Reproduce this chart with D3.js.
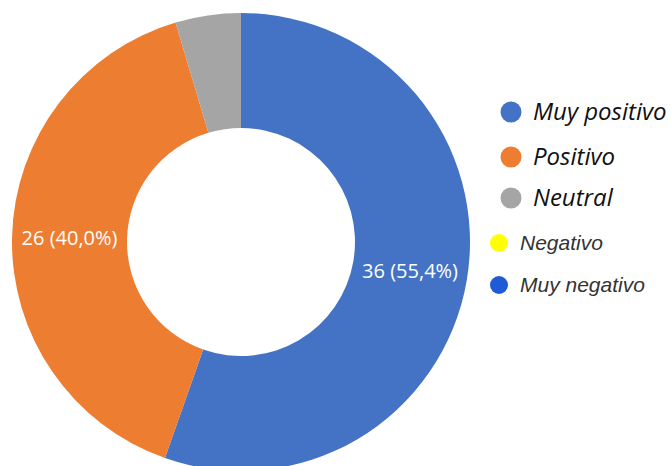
<!DOCTYPE html>
<html>
<head>
<meta charset="utf-8">
<script src="https://cdn.jsdelivr.net/npm/d3@7"></script>
<style>
	body { margin: 0; background: #fff; }
	svg { display: block; }
</style>
</head>
<body>
<svg id="chart" width="672" height="466"></svg>
<script>
	var categories = ["Muy positivo", "Positivo", "Neutral", "Negativo", "Muy negativo"];
	var counts = [36, 26, 3, 0, 0];
	var sliceColors = ["#4472c4", "#ed7d31", "#a5a5a5", "#ffff00", "#1f5bd6"];

	var width = 672, height = 466,
		cx = 241, cy = 242,
		outerR = 229, innerR = 114;

	var svg = d3.select("#chart");
	var total = d3.sum(counts);

	var pie = d3.pie()
		.sort(null)
		.value(function(d) { return d; });
	var arcs = pie(counts);

	var arc = d3.arc()
		.innerRadius(innerR)
		.outerRadius(outerR);
	var labelArc = d3.arc()
		.innerRadius((innerR + outerR) / 2)
		.outerRadius((innerR + outerR) / 2);

	var g = svg.append("g")
		.attr("transform", "translate(" + cx + "," + cy + ")");

	g.selectAll("path.slice")
		.data(arcs)
		.enter().append("path")
		.attr("class", "slice")
		.attr("d", arc)
		.attr("fill", function(d, i) { return sliceColors[i]; });

	//  value labels only on the two big slices
	g.selectAll("text.value")
		.data(arcs.filter(function(d) { return d.value / total > 0.1; }))
		.enter().append("text")
		.attr("class", "value")
		.attr("transform", function(d) { return "translate(" + labelArc.centroid(d) + ")"; })
		.attr("dy", ".35em")
		.style("text-anchor", "middle")
		.style("font-family", "'Open Sans', 'Noto Sans', sans-serif")
		.style("font-size", "20px")
		.attr("fill", "#fff")
		.text(function(d) {
			var pct = (d.value / total * 100).toFixed(1).replace(".", ",");
			return d.value + " (" + pct + "%)";
		});

	//  legend: first three in one style, last two in another
	var legendPos = [
		{x: 511, y: 112, r: 10.5, tx: 533, size: 24, font: "'Open Sans', 'Noto Sans', sans-serif", color: "#111"},
		{x: 511, y: 157, r: 10.5, tx: 533, size: 24, font: "'Open Sans', 'Noto Sans', sans-serif", color: "#111"},
		{x: 511, y: 198, r: 10.5, tx: 533, size: 24, font: "'Open Sans', 'Noto Sans', sans-serif", color: "#111"},
		{x: 499, y: 243, r: 9, tx: 520, size: 21, font: "'Liberation Sans', Arial, sans-serif", color: "#333"},
		{x: 499, y: 285, r: 9, tx: 520, size: 21, font: "'Liberation Sans', Arial, sans-serif", color: "#333"}
	];

	var legend = svg.selectAll("g.legend")
		.data(categories)
		.enter().append("g")
		.attr("class", "legend")
		.attr("transform", function(d, i) {
			return "translate(0," + legendPos[i].y + ")";
		});
	legend.append("circle")
		.attr("cx", function(d, i) { return legendPos[i].x; })
		.attr("cy", 0)
		.attr("r", function(d, i) { return legendPos[i].r; })
		.attr("fill", function(d, i) { return sliceColors[i]; });
	legend.append("text")
		.attr("x", function(d, i) { return legendPos[i].tx; })
		.attr("dy", ".35em")
		.style("font-family", function(d, i) { return legendPos[i].font; })
		.style("font-size", function(d, i) { return legendPos[i].size + "px"; })
		.style("font-style", "italic")
		.attr("fill", function(d, i) { return legendPos[i].color; })
		.text(function(d) { return d; });
</script>
</body>
</html>
